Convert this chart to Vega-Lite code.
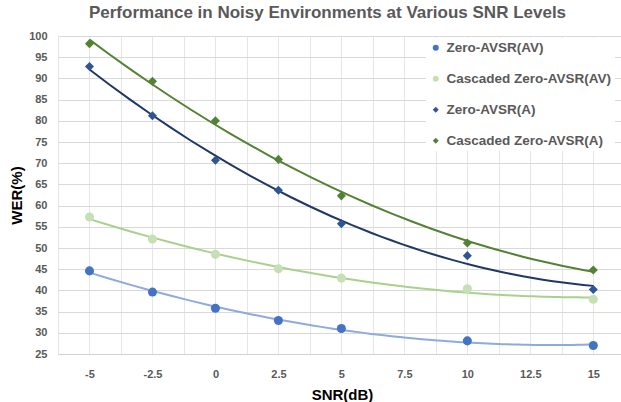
{
  "$schema": "https://vega.github.io/schema/vega-lite/v6.json",
  "width": 563,
  "height": 318,
  "autosize": {"type": "none"},
  "padding": {"left": 58, "top": 36, "right": 0, "bottom": 48},
  "background": "white",
  "config": {
    "view": {"stroke": null},
    "font": "Liberation Sans",
    "legend": {
      "orient": "none", "legendX": 368, "legendY": 2,
      "fillColor": "white", "padding": 3, "rowPadding": 16,
      "labelFont": "Liberation Sans", "labelFontSize": 13.5, "labelFontWeight": "bold",
      "labelColor": "#595959", "symbolSize": 36, "labelOffset": 4, "labelLimit": 300
    }
  },
  "title": {
    "text": "Performance in Noisy Environments at Various SNR Levels",
    "font": "Liberation Sans",
    "fontSize": 17,
    "fontWeight": "bold",
    "color": "#595959",
    "anchor": "middle",
    "frame": "group",
    "dx": -12,
    "offset": 8
  },
  "data": {
    "values": [
      {"series": "Zero-AVSR(AV)", "snr": -5, "wer": 44.6},
      {"series": "Zero-AVSR(AV)", "snr": -2.5, "wer": 39.6},
      {"series": "Zero-AVSR(AV)", "snr": 0, "wer": 35.8},
      {"series": "Zero-AVSR(AV)", "snr": 2.5, "wer": 32.9},
      {"series": "Zero-AVSR(AV)", "snr": 5, "wer": 31.0},
      {"series": "Zero-AVSR(AV)", "snr": 10, "wer": 28.1},
      {"series": "Zero-AVSR(AV)", "snr": 15, "wer": 27.0},
      {"series": "Cascaded Zero-AVSR(AV)", "snr": -5, "wer": 57.3},
      {"series": "Cascaded Zero-AVSR(AV)", "snr": -2.5, "wer": 52.1},
      {"series": "Cascaded Zero-AVSR(AV)", "snr": 0, "wer": 48.5},
      {"series": "Cascaded Zero-AVSR(AV)", "snr": 2.5, "wer": 45.1},
      {"series": "Cascaded Zero-AVSR(AV)", "snr": 5, "wer": 42.9},
      {"series": "Cascaded Zero-AVSR(AV)", "snr": 10, "wer": 40.4},
      {"series": "Cascaded Zero-AVSR(AV)", "snr": 15, "wer": 37.9},
      {"series": "Zero-AVSR(A)", "snr": -5, "wer": 92.8},
      {"series": "Zero-AVSR(A)", "snr": -2.5, "wer": 81.2},
      {"series": "Zero-AVSR(A)", "snr": 0, "wer": 70.7},
      {"series": "Zero-AVSR(A)", "snr": 2.5, "wer": 63.6},
      {"series": "Zero-AVSR(A)", "snr": 5, "wer": 55.7},
      {"series": "Zero-AVSR(A)", "snr": 10, "wer": 48.2},
      {"series": "Zero-AVSR(A)", "snr": 15, "wer": 40.2},
      {"series": "Cascaded Zero-AVSR(A)", "snr": -5, "wer": 98.2},
      {"series": "Cascaded Zero-AVSR(A)", "snr": -2.5, "wer": 89.3},
      {"series": "Cascaded Zero-AVSR(A)", "snr": 0, "wer": 80.0},
      {"series": "Cascaded Zero-AVSR(A)", "snr": 2.5, "wer": 70.9},
      {"series": "Cascaded Zero-AVSR(A)", "snr": 5, "wer": 62.3},
      {"series": "Cascaded Zero-AVSR(A)", "snr": 10, "wer": 51.2},
      {"series": "Cascaded Zero-AVSR(A)", "snr": 15, "wer": 44.8}
    ]
  },
  "encoding": {
    "x": {
      "field": "snr",
      "type": "quantitative",
      "title": "SNR(dB)",
      "scale": {"domain": [-6.25, 16.1], "nice": false, "zero": false},
      "axis": {
        "values": [-6.25, -5, -3.75, -2.5, -1.25, 0, 1.25, 2.5, 3.75, 5, 6.25, 7.5, 8.75, 10, 11.25, 12.5, 13.75, 15],
        "labelExpr": "datum.value >= -5 && abs(datum.value % 2.5) < 0.001 ? (datum.value < 0 ? '-' : '') + format(abs(datum.value), '') : ''",
        "ticks": false,
        "grid": true,
        "gridColor": "#e6e6e6",
        "gridWidth": 1,
        "domain": true,
        "domainColor": "#d0d0d0",
        "domainWidth": 1,
        "labelFont": "Liberation Sans",
        "labelFontSize": 11,
        "labelFontWeight": "bold",
        "labelColor": "#595959",
        "labelPadding": 14,
        "titleFont": "Liberation Sans",
        "titleFontSize": 15,
        "titleFontWeight": "bold",
        "titleColor": "#000000",
        "titleX": 284,
        "titleY": 45,
        "titleBaseline": "alphabetic"
      }
    },
    "y": {
      "field": "wer",
      "type": "quantitative",
      "title": "WER(%)",
      "scale": {"domain": [25, 100], "nice": false, "zero": false},
      "axis": {
        "values": [25, 30, 35, 40, 45, 50, 55, 60, 65, 70, 75, 80, 85, 90, 95, 100],
        "ticks": false,
        "grid": true,
        "gridColor": "#d9d9d9",
        "gridWidth": 1,
        "domain": false,
        "labelFont": "Liberation Sans",
        "labelFontSize": 11,
        "labelFontWeight": "bold",
        "labelColor": "#595959",
        "labelPadding": 11,
        "titleFont": "Liberation Sans",
        "titleFontSize": 15,
        "titleFontWeight": "bold",
        "titleColor": "#000000",
        "titleAngle": -90,
        "titleX": -37,
        "titleY": 159,
        "titleAlign": "center",
        "titleBaseline": "alphabetic"
      }
    }
  },
  "layer": [
    {
      "transform": [
        {"regression": "wer", "on": "snr", "groupby": ["series"], "method": "poly", "order": 2, "extent": [-5, 15]}
      ],
      "mark": {"type": "line", "strokeWidth": 2},
      "encoding": {
        "stroke": {
          "field": "series",
          "type": "nominal",
          "scale": {
            "range": ["#548235", "#A9D18E", "#203864", "#8FAADC"]
          },
          "legend": null
        }
      }
    },
    {
      "mark": {"type": "point", "filled": true, "opacity": 1, "size": 82},
      "encoding": {
        "color": {
          "field": "series",
          "type": "nominal",
          "title": null,
          "scale": {
            "domain": ["Zero-AVSR(AV)", "Cascaded Zero-AVSR(AV)", "Zero-AVSR(A)", "Cascaded Zero-AVSR(A)"],
            "range": ["#4472C4", "#C5E0B4", "#2F5597", "#548235"]
          }
        },
        "shape": {
          "field": "series",
          "type": "nominal",
          "title": null,
          "scale": {
            "domain": ["Zero-AVSR(AV)", "Cascaded Zero-AVSR(AV)", "Zero-AVSR(A)", "Cascaded Zero-AVSR(A)"],
            "range": ["circle", "circle", "diamond", "diamond"]
          }
        }
      }
    }
  ]
}
